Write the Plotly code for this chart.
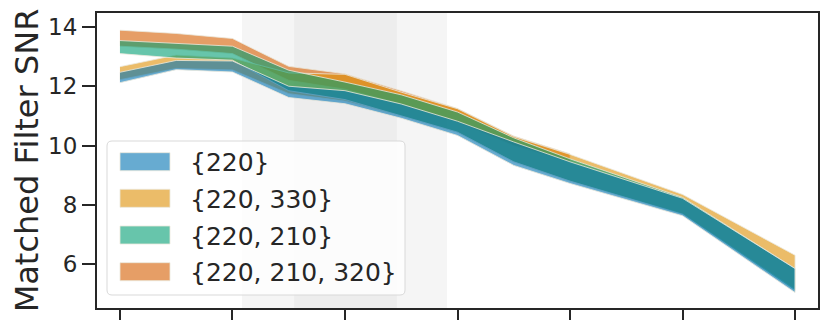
import plotly.graph_objects as go

# x positions (tick units), ticks carry no labels in the reference
x_vals = [0, 0.5, 1, 1.5, 2, 2.5, 3, 3.5, 4, 5, 6]
x_ticks = [0, 1, 2, 3, 4, 5, 6]

# band limits (lower, upper) per series
s220_lo = [12.12, 12.56, 12.48, 11.62, 11.41, 10.92, 10.34, 9.33, 8.72, 7.63, 5.04]
s220_hi = [12.47, 12.87, 12.85, 12.00, 11.85, 11.40, 10.82, 10.12, 9.45, 8.22, 5.85]

s330_lo = [12.22, 12.60, 12.55, 11.75, 11.50, 11.00, 10.45, 9.45, 8.80, 7.70, 5.15]
s330_hi = [12.66, 13.05, 12.95, 12.45, 12.40, 11.80, 11.24, 10.30, 9.70, 8.35, 6.30]

s210_lo = [13.10, 12.95, 12.88, 11.85, 11.55, 11.00, 10.45, 9.45, 8.80, 7.68, 5.10]
s210_hi = [13.54, 13.45, 13.35, 12.54, 12.14, 11.71, 11.13, 10.26, 9.55, 8.25, 5.85]

x_320 = [0, 0.5, 1, 1.5, 2, 2.5, 3, 3.5, 4]
s320_lo = [13.35, 13.25, 13.10, 12.20, 11.90, 11.40, 10.80, 10.00, 9.45]
s320_hi = [13.89, 13.78, 13.61, 12.67, 12.42, 11.85, 11.25, 10.32, 9.72]

legend_names = ["{220}", "{220, 330}", "{220, 210}", "{220, 210, 320}"]

# shaded windows on x
span_outer = (1.084, 2.907)
span_inner = (1.547, 2.462)

# the page body has an 8px margin, so the figure is drawn 8px smaller / shifted
OFF = 8
L, R, T, B = 97 - OFF, 818 - OFF, 13 - OFF, 308 - OFF
W, H = 830 - OFF, 331 - OFF


def px(xp):
    # xp given in screenshot pixels
    return (xp - OFF - L) / (R - L)


def py(yp):
    return (B - (yp - OFF)) / (B - T)


colors = {
    "{220}": (1, 115, 178),
    "{220, 330}": (222, 143, 5),
    "{220, 210}": (2, 158, 115),
    "{220, 210, 320}": (213, 94, 0),
}
edge = "rgba(235,232,220,0.8)"

fig = go.Figure()


def add_band(x, lo, hi, name):
    fig.add_trace(go.Scatter(
        x=list(x) + list(x)[::-1],
        y=list(hi) + list(lo)[::-1],
        fill="toself",
        mode="lines",
        fillcolor="rgba(%d,%d,%d,0.6)" % colors[name],
        line=dict(width=1, color=edge),
        name=name,
        showlegend=False,
        hoverinfo="skip",
    ))


# drawing order: red first, blue last (matches the overlaps in the picture)
add_band(x_320, s320_lo, s320_hi, "{220, 210, 320}")
add_band(x_vals, s330_lo, s330_hi, "{220, 330}")
add_band(x_vals, s210_lo, s210_hi, "{220, 210}")
add_band(x_vals, s220_lo, s220_hi, "{220}")

for x0, x1, a in [(span_outer[0], span_outer[1], 0.04), (span_inner[0], span_inner[1], 0.03)]:
    fig.add_shape(type="rect", xref="x", yref="paper", x0=x0, x1=x1, y0=0, y1=1,
                  fillcolor="rgba(0,0,0,%s)" % a, line_width=0, layer="below")

# legend box (rounded), drawn by hand so the patches match the reference size
bx0, bx1, by0, by1, rr = 107, 405, 141, 295, 5
path = ("M {a},{b} L {c},{b} Q {d},{b} {d},{e} L {d},{f} Q {d},{g} {c},{g} "
        "L {a},{g} Q {h},{g} {h},{f} L {h},{e} Q {h},{b} {a},{b} Z").format(
    a=px(bx0 + rr), b=py(by0), c=px(bx1 - rr), d=px(bx1), e=py(by0 + rr),
    f=py(by1 - rr), g=py(by1), h=px(bx0))
fig.add_shape(type="path", xref="paper", yref="paper", path=path,
              fillcolor="rgba(255,255,255,0.8)", line=dict(color="#d9d9d9", width=1))

row_y = [161.7, 198.3, 235.0, 271.7]
for name, ry in zip(legend_names, row_y):
    fig.add_shape(type="rect", xref="paper", yref="paper",
                  x0=px(120), x1=px(170), y0=py(ry - 9), y1=py(ry + 9),
                  fillcolor="rgba(%d,%d,%d,0.6)" % colors[name], line=dict(color=edge, width=1))
    fig.add_annotation(x=px(188), y=py(ry + 1), xref="paper", yref="paper",
                       text=name, showarrow=False, xanchor="left", yanchor="middle",
                       font=dict(size=25, color="#262626"))

fig.update_layout(
    width=W, height=H,
    margin=dict(l=L, r=W - R, t=T, b=H - B),
    plot_bgcolor="white", paper_bgcolor="white",
    font=dict(family="DejaVu Sans", color="#262626"),
    showlegend=False,
)
fig.update_xaxes(
    range=[-0.204, 6.204], tickvals=x_ticks, showticklabels=False,
    ticks="outside", ticklen=10, tickwidth=1.5, tickcolor="#262626",
    showline=True, linecolor="#262626", linewidth=2, mirror=True,
    showgrid=False, zeroline=False, automargin=False,
)
fig.update_yaxes(
    range=[4.52, 14.47], tickvals=[6, 8, 10, 12, 14],
    ticks="outside", ticklen=13, tickwidth=1.5, tickcolor="#262626",
    tickfont=dict(size=23),
    showline=True, linecolor="#262626", linewidth=2, mirror=True,
    showgrid=False, zeroline=False, automargin=False,
    title=dict(text="Matched Filter SNR", font=dict(size=32), standoff=5),
)

fig.write_html("out.html")
